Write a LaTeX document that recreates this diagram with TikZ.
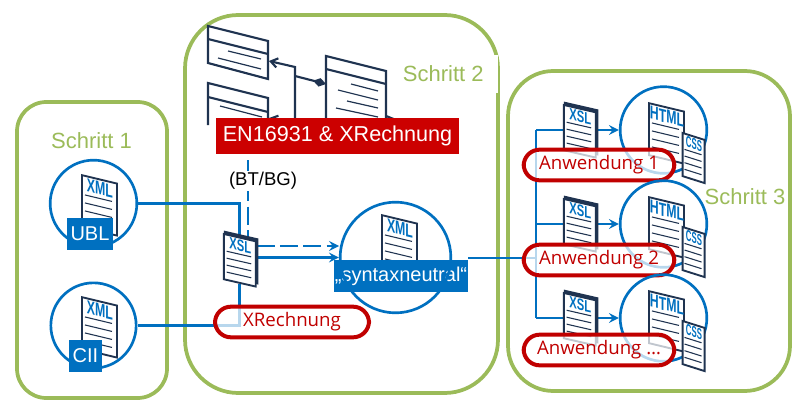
\documentclass[tikz,border=0pt]{standalone}
\usepackage{fontspec}
\setmainfont{Liberation Sans}
\newfontfamily\pillfont{Open Sans}
\usepackage{xcolor}
\usepackage{tikz}
\usetikzlibrary{arrows.meta, backgrounds, positioning}
\definecolor{stepgreen}{HTML}{9BBB59}
\definecolor{flowblue}{HTML}{0070C0}
\definecolor{sheetnavy}{HTML}{1F3350}
\definecolor{pillred}{HTML}{C00000}
\definecolor{enred}{HTML}{CC0000}
% one sheet of paper, drawn slanted, 35 x 52 units
\newcommand{\sheetbody}[1]{
  \begin{scope}[yslant=-0.24]
    \node[sheetpage] (-body) at (0,0) {};
    \foreach \ly in {20,28,36,44} \draw[sheetrule] (4,\ly) -- (31,\ly);
    \node[sheetlabel] (-label) at (19,10) {#1};
  \end{scope}
}
\tikzset{
  stepframe/.style={draw=stepgreen, line width=2.8pt},
  steplabel/.style={text=stepgreen, font=\fontsize{16.5pt}{18pt}\selectfont, inner sep=0pt},
  ring/.style={circle, draw=flowblue, line width=2pt, inner sep=0pt},
  flow/.style={draw=flowblue, line width=2.2pt},
  flowarrow/.style={flow,->,>=stealth},
  flowdash/.style={flow,dash pattern=on 13.5pt off 4pt},
  bluelabel/.style={fill=flowblue, text=white, inner sep=0pt, font=\fontsize{15pt}{17pt}\selectfont},
  pill/.style={draw=pillred, line width=3pt, fill=white, fill opacity=0.72, text opacity=1, text=pillred, rounded corners=12pt, minimum height=23pt, inner sep=0pt, font=\pillfont\fontsize{14pt}{16pt}\selectfont},
  sheetpage/.style={draw=sheetnavy, line width=1.4pt, fill=white, anchor=north west, minimum width=26.25pt, minimum height=39pt, inner sep=0pt, transform shape},
  sheetrule/.style={draw=sheetnavy, line width=0.8pt},
  sheetlabel/.style={text=flowblue, font=\bfseries\fontsize{14pt}{14pt}\selectfont, inner sep=0pt, xscale=0.66, transform shape},
  classline/.style={draw=sheetnavy, line width=1.6pt},
  classrule/.style={draw=sheetnavy, line width=0.9pt},
  pics/sheet/.style={code={\sheetbody{#1}}},
  pics/stacksheet/.style={code={
    \begin{scope}[yslant=-0.24]
      \fill[sheetnavy] (1,-3) rectangle (39,50);
    \end{scope}
    \sheetbody{#1}}}
}
\begin{document}
\begin{tikzpicture}[x=0.75pt, y=-0.75pt]
\useasboundingbox (0,0) rectangle (807,403);

% Row of step frames and the connectors sit behind everything else
\begin{scope}[on background layer]
\draw[stepframe, rounded corners=22pt] (17,102) rectangle (167,398);
\draw[stepframe, rounded corners=40pt] (185,15) rectangle (498,393);
\draw[stepframe, rounded corners=34pt] (508,71) rectangle (790,391);
\end{scope}
\node[steplabel] (stepone) at (91.5,141) {Schritt 1};
\node[steplabel, fill=white, minimum width=72pt, minimum height=29pt, text depth=0pt] (steptwo) at (450,74) {\hspace*{-10pt}Schritt 2};
\node[steplabel] (stepthree) at (745,197) {Schritt 3};

% Class diagram behind the red title
\draw[classline] (208,26) -- (268,41) -- (268,79) -- (208,63) -- cycle;
\draw[classline] (208,39) -- (268,54);
\draw[classrule] (228,51) -- (261,59);
\draw[classrule] (218,58) -- (261,69);
\draw[classline] (208,125) -- (208,83) -- (268,98) -- (268,125);
\draw[classline] (208,97) -- (268,112);
\draw[classrule] (220,106) -- (262,117);
\draw[classline] (326,125) -- (326,56) -- (386,71) -- (386,125);
\draw[classline] (326,69) -- (386,84);
\draw[classrule] (351,84) -- (378,91);
\draw[classrule] (338,90) -- (378,100);
\draw[classrule] (347,101) -- (378,108);
\draw[classrule] (336,108) -- (378,117);
\draw[classline] (386,116) -- (396,120);
\coordinate (classa) at (269,61);
\coordinate (classb) at (269,118);
\coordinate (classc) at (326,84);
\coordinate (classjoin) at (295,76);
\draw[classline, {Straight Barb[length=5pt,width=7pt]}-] (classa) -- (295,67) -- (295,125);
\draw[classline, {Straight Barb[length=5pt,width=7pt]}-] (classb) -- (295,125);
\draw[classline, -{Diamond[length=10pt,width=6.5pt]}] (classjoin) -- (classc);
\node[fill=enred, text=white, minimum width=182.25pt, minimum height=27pt, inner sep=0pt, font=\fontsize{16.2pt}{18pt}\selectfont] (enbox) at (337.5,136) {EN16931 \& XRechnung};

% Input documents
\pic (ublsheet) at (81,174) {sheet=XML};
\node[bluelabel, minimum width=34.5pt, minimum height=24pt] (ubl) at (90,234) {UBL};
\node[ring, minimum size=65pt] (ublring) at (93.5,203.5) {};
\pic (ciisheet) at (81,296) {sheet=XML};
\node[bluelabel, minimum width=24.75pt, minimum height=24pt] (cii) at (85.5,356) {CII};
\node[ring, minimum size=64pt] (ciiring) at (93.5,325.5) {};

% Transformation and syntax neutral result
\pic[xscale=0.91, yscale=0.87] (xslsheet) at (223,233) {stacksheet=XSL};
\pic (neutralsheet) at (381,214) {sheet=XML};
\node[bluelabel, minimum width=100.5pt, minimum height=24pt] (neutral) at (401,276) {„syntaxneutral“};
\node[ring, minimum size=83pt] (neutralring) at (395.5,257.5) {};
\coordinate (dashin) at (339,246);
\coordinate (dashtop) at (248,160);
\coordinate (split) at (536,258);
\begin{scope}[on background layer]
\draw[flow] (ublring.east) -| (xslsheet-body.north);
\draw[flow] (ciiring.east) -| (xslsheet-body.south);
\draw[flowdash] (dashtop) -- (xslsheet-body.north -| dashtop);
\draw[flowarrow, dash pattern=on 13.5pt off 4pt] (xslsheet-body.east |- dashin) -- (dashin);
\draw[flowarrow] (xslsheet-body.east |- neutralring.west) -- (neutralring.west);
\draw[flow] (neutral.east |- split) -- (split);
\end{scope}
\node[fill=white, inner sep=1pt, text=black, font=\fontsize{13.9pt}{16pt}\selectfont] (btbg) at (263,181) {(BT/BG)};
\node[pill, minimum width=115.5pt] (xrechnung) at (292,322) {XRechnung};

% Application rows
\foreach \row/\dy/\pilly/\app in {1/0/165/Anwendung 1, 2/94/260/Anwendung 2, 3/188/350/Anwendung \ldots}{
  \node[ring, minimum size=65pt] (htmlring\row) at (663.5,130+\dy) {};
  \pic[xscale=0.91, yscale=0.87] (appxsl\row) at (563,104+\dy) {stacksheet=XSL};
  \pic (apphtml\row) at (648,102+\dy) {sheet=HTML};
  \pic[xscale=0.63, yscale=0.83] (appcss\row) at (682,132+\dy) {sheet=CSS};
  \begin{scope}[on background layer]
  \draw[flowarrow] (split |- htmlring\row.west) -- (htmlring\row.west);
  \end{scope}
  \node[pill, minimum width=113pt] (app\row) at (599,\pilly) {\app};
}
\begin{scope}[on background layer]
\draw[flow] (split |- htmlring1.west) -- (split |- htmlring3.west);
\end{scope}
\end{tikzpicture}
\end{document}
